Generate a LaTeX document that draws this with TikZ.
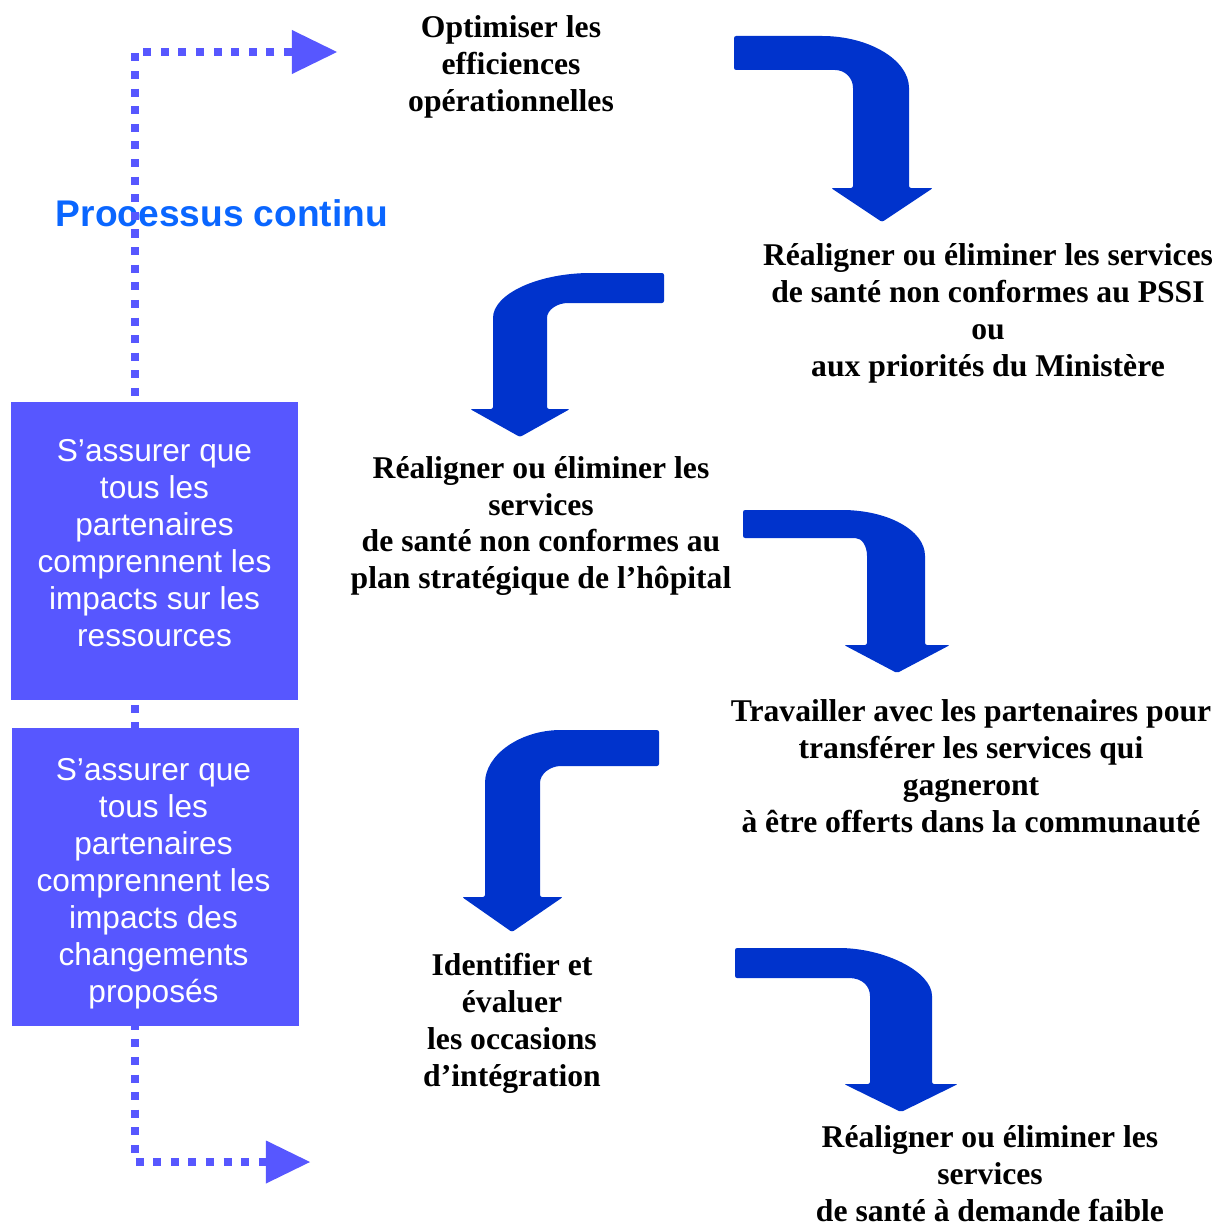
\documentclass[tikz,border=0pt]{standalone}
\usepackage{fontspec}
\setmainfont{Liberation Serif}
\setsansfont{Liberation Sans}
\usetikzlibrary{arrows.meta}
\definecolor{bendblue}{RGB}{0,51,204}
\definecolor{loopblue}{RGB}{87,87,255}
\definecolor{titleblue}{RGB}{10,102,255}

\begin{document}
\begin{tikzpicture}
[x=0.025cm, y=-0.025cm,
bendarrow/.style={fill=bendblue, rounded corners=1.5pt},
stage/.style={align=center, inner sep=0pt, font=\fontsize{22.5}{26.3}\selectfont\bfseries},
impact/.style={rectangle, fill=loopblue, inner sep=0pt, minimum width=7.175cm, minimum height=7.45cm},
impact text/.style={text=white, align=center, inner sep=0pt, font=\sffamily\fontsize{22.5}{26.3}\selectfont},
loopline/.style={draw=loopblue, line width=0.2cm, dash pattern=on 0.2cm off 0.24cm,
  {Triangle[length=1.125cm, width=1.1cm, line width=0pt]}-{Triangle[length=1.1cm, width=1.075cm, line width=0pt]}}]

\useasboundingbox (0,0) rectangle (1219,1228);

\node[font=\sffamily\bfseries\fontsize{26.4}{30}\selectfont, text=titleblue, inner sep=0pt] (caption) at (222,213) {Processus continu};

% continuous loop
\coordinate (loop top) at (337,52);
\coordinate (loop side) at (135,600);
\coordinate (loop bottom) at (310,1162);
\draw[loopline] (loop top) -| (loop side) |- (loop bottom);

\node[impact] (resources) at (154.5,551) {};
\node[impact text] (resources text) at (154.5,543) {S’assurer que\\tous les\\partenaires\\comprennent les\\impacts sur les\\ressources};
\node[impact] (changes) at (155.5,877) {};
\node[impact text] (changes text) at (153.5,884) {S’assurer que\\tous les\\partenaires\\comprennent les\\impacts des\\changements\\proposés};

% stages
\node[stage] (optimise) at (511,67) {Optimiser les\\efficiences\\opérationnelles};
\node[stage] (pssi) at (988,313) {Réaligner ou éliminer les services\\de santé non conformes au PSSI\\ou\\aux priorités du Ministère};
\node[stage] (hospital) at (541,526) {Réaligner ou éliminer les\\services\\de santé non conformes au\\plan stratégique de l’hôpital};
\node[stage] (transfer) at (971,766) {Travailler avec les partenaires pour\\transférer les services qui\\gagneront\\à être offerts dans la communauté};
\node[stage] (integrate) at (512,1023) {Identifier et\\évaluer\\les occasions\\d’intégration};
\node[stage] (demand) at (990,1174) {Réaligner ou éliminer les\\services\\de santé à demande faible};

% bent arrows
\fill[bendarrow] (734,36) -- (820,36) .. controls (869,36) and (909,60) .. (909,90) -- (909,188)
  -- (933,188) -- (882,222) -- (831,188) -- (853,188) -- (853,90)
  .. controls (853,78) and (845,70) .. (833,70) -- (734,70) -- cycle;
\fill[bendarrow] (664,273) -- (593,273) .. controls (538,273) and (493,294) .. (493,320) -- (493,409)
  -- (470,409) -- (520,437) -- (570,409) -- (547,409) -- (547,320)
  .. controls (547,310) and (557,303) .. (570,303) -- (664,303) -- cycle;
\fill[bendarrow] (743,510) -- (840,510) .. controls (887,510) and (925,530) .. (925,558) -- (925,645)
  -- (950,645) -- (897,673) -- (844,645) -- (867,645) -- (867,558)
  .. controls (867,546) and (862,538) .. (853,538) -- (743,538) -- cycle;
\fill[bendarrow] (659,730) -- (563,730) .. controls (520,730) and (485,755) .. (485,785) -- (485,897)
  -- (462,897) -- (512,932) -- (563,897) -- (540,897) -- (540,785)
  .. controls (540,774) and (550,766) .. (563,766) -- (659,766) -- cycle;
\fill[bendarrow] (735,948) -- (837,948) .. controls (885,948) and (932,972) .. (932,998) -- (932,1084)
  -- (958,1084) -- (901,1112) -- (844,1084) -- (870,1084) -- (870,998)
  .. controls (870,986) and (862,978) .. (847,978) -- (735,978) -- cycle;

\end{tikzpicture}
\end{document}
